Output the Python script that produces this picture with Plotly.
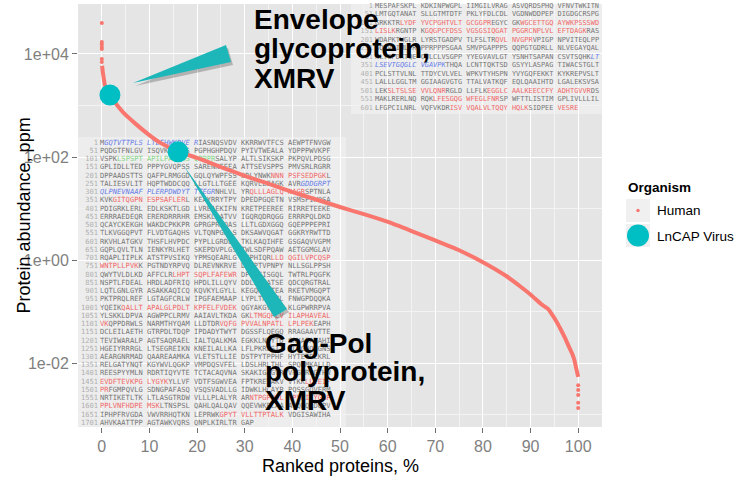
import plotly.graph_objects as go

# ---------------- data ----------------
human_top_rank = [0.0, 0.0, 0.0, 0.0, 0.0, 0.0, 0.0]
human_top_ppm = [39800, 17000, 15500, 13700, 12500, 8000, 6950]

human_curve_rank = [0.06, 0.2, 0.4, 0.6, 1.0, 1.7, 2.9, 5.0, 7.1, 9.9, 12.4, 16.2, 20.0,
                    25.0, 30.0, 35.1, 39.9, 45.0, 50.0, 55.0, 60.1, 64.9, 70.0, 75.0,
                    80.0, 84.9, 88.0, 90.1, 92.2, 93.7, 95.0, 96.4, 97.3, 98.1, 98.7,
                    99.2, 99.6, 100.0]
human_curve_ppm = [5900, 4500, 3400, 2600, 2000, 1600, 1110, 655, 440, 270, 186, 126, 96,
                   64, 43, 30, 21, 15, 10.7, 7.8, 5.5, 3.7, 2.4, 1.55,
                   0.91, 0.49, 0.30, 0.21, 0.14, 0.112, 0.075, 0.044, 0.030, 0.0204, 0.0155,
                   0.0115, 0.0078, 0.0054]

human_tail_rank = [100.0, 100.0, 100.0, 100.0, 100.0]
human_tail_ppm = [0.0037, 0.0030, 0.0024, 0.0017, 0.00135]

virus_rank = [1.7, 16.0]
virus_ppm = [1600, 126]
virus_names = ["Envelope glycoprotein, XMRV", "Gag-Pol polyprotein, XMRV"]

x_tickvals = [0, 10, 20, 30, 40, 50, 60, 70, 80, 90, 100]
y_tickvals = [1e-2, 1, 1e2, 1e4]
y_ticktext = ["1e-02", "1e+00", "1e+02", "1e+04"]
y_minorvals = [1e-3, 1e-1, 1e1, 1e3]

gagpol_lines = [
    "MGQTVTTPLS LTLEHWKDVE RIASNQSVDV KKRRWVTFCS AEWPTFNVGW",
    "PQDGTFNLGV ISQVKSKVFS PGPHGHPDQV PYIVTWEALA YDPPPWVKPF",
    "VSPKLSPSPT APILPARPSS QPPPRSALYP ALTLSIKSKP PKPQVLPDSG",
    "GPLIDLLTED PPPYGVQPSS SARENNEEEA ATTSEVSPPS PMVSRLRGRR",
    "DPPAADSTTS QAFPLRMGGD GQLQYWPFSS SDLYNWKNNN PSFSEDPGKL",
    "TALIESVLIT HQPTWDDCQQ LLGTLLTGEE KQRVLLEAGK AVRGDDGRPT",
    "QLPNEVNAAF PLERPDWDYT TTEGRNHLVL YRQLLLAGLQ NAGRSPTNLA",
    "KVKGITQGPN ESPSAFLERL KEAYRRYTPY DPEDPGQETN VSMSFIWQSA",
    "PDIGRKLERL EDLKSKTLGD LVREAEKIFN KRETPEEREE RIRRETEEKE",
    "ERRRAEDEQR ERERDRRRHR EMSKLLATVV IGQRQDRQGG ERRRPQLDKD",
    "QCAYCKEKGH WAKDCPKKPR GPRGPRPQAS LLTLGDXGGQ GQEPPPEPRI",
    "TLKVGGQPVT FLVDTGAQHS VLTQNPGPLS DKSAWVQGAT GGKRYRWTTD",
    "RKVHLATGKV THSFLHVPDC PYPLLGRDLL TKLKAQIHFE GSGAQVVGPM",
    "GQPLQVLTLN IENKYRLHET SKEPDVPLGS TWLSDFPQAW AETGGMGLAV",
    "RQAPLIIPLK ATSTPVSIKQ YPMSQEARLG IKPHIQRLLD QGILVPCQSP",
    "WNTPLLPVKK PGTNDYRPVQ DLREVNKRVE DIHPTVPNPY NLLSGLPPSH",
    "QWYTVLDLKD AFFCLRLHPT SQPLFAFEWR DPEMGISGQL TWTRLPQGFK",
    "NSPTLFDEAL HRDLADFRIQ HPDLILLQYV DDLLLAATSE QDCQRGTRAL",
    "LQTLGNLGYR ASAKKAQICQ KQVKYLGYLL KEGQRWLTEA RKETVMGQPT",
    "PKTPRQLREF LGTAGFCRLW IPGFAEMAAP LYPLTKTGTL FNWGPDQQKA",
    "YQEIKQALLT APALGLPDLT KPFELFVDEK QGYAKGVLTQ KLGPWRRPVA",
    "YLSKKLDPVA AGWPPCLRMV AAIAVLTKDA GKLTMGQPLV ILAPHAVEAL",
    "VKQPPDRWLS NARMTHYQAM LLDTDRVQFG PVVALNPATL LPLPEKEAPH",
    "DCLEILAETH GTRPDLTDQP IPDADYTWYT DGSSFLQEGQ RRAGAAVTTE",
    "TEVIWARALP AGTSAQRAEL IALTQALKMA EGKKLNVYTD SRYAFATAHI",
    "HGEIYRRRGL LTSEGREIKN KNEILALLKA LFLPKRLSII HCPGHQKGNS",
    "AEARGNRMAD QAAREAAMKA VLETSTLLIE DSTPYTPPHF HYTETDLKRL",
    "RELGATYNQT KGYWVLQGKP VMPDQSVFEL LDSLHRLTHL SPQKMKALLD",
    "REESPYYMLN RDRTIQYVTE TCTACAQVNA SKAKIGAGVR VRGHRPGTHW",
    "EVDFTEVKPG LYGYKYLLVF VDTFSGWVEA FPTKRETAKV VTKKLLEEIF",
    "PRFGMPQVLG SDNGPAFASQ VSQSVADLLG IDWKLHCAYR PQSSGQVERM",
    "NRTIKETLTK LTLASGTRDW VLLLPLALYR ARNTPGPHGL TPYEILYGAP",
    "PPLVNFHDPE MSKLTNSPSL QAHLQALQAV QQEVWKPLAA AYQDQLDQPV",
    "IPHPFRVGDA VWVRRHQTKN LEPRWKGPYT VLLTTPTALK VDGISAWIHA",
    "AHVKAATTPP AGTAWKVQRS QNPLKIRLTR GAP",
]
gagpol_peptides = [
    ("GQTVTTPLSLTLEHWKDVER", "blue"),
    ("LSPSPTAPILPARPSSQPPPR", "green"),
    ("NNNPSFSEDPGK", "red"),
    ("GDDGRPTQLPNEVNAAFPLERPDWDYTTTEGR", "blue"),
    ("QLLLAGLQNAGR", "red"),
    ("GITQGPNESPSAFLER", "red"),
    ("LLDQGILVPCQSPWNTPLLPVK", "red"),
    ("LHPTSQPLFAFEWR", "red"),
    ("QALLTAPALGLPDLTKPFELFVDEK", "red"),
    ("LTMGQPLVILAPHAVEALVK", "red"),
    ("VQFGPVVALNPATLLPLPEK", "red"),
    ("EVDFTEVKPGLYGYK", "red"),
    ("LLEEIFPR", "red"),
    ("NTPGPHGLTPYEILYGAPPPLVNFHDPEMSK", "red"),
    ("GPYTVLLTTPTALK", "red"),
]

env_lines = [
    "MESPAFSKPL KDKINPWGPL IIMGILVRAG ASVQRDSPHQ VFNVTWKITN",
    "LMTGQTANAT SLLGTMTDTF PKLYFDLCDL VGDNWDDPEP DIGDGCRSPG",
    "GRKKTRLYDF YVCPGHTVLT GCGGPREGYC GKWGCETTGQ AYWKPSSSWD",
    "LISLKRGNTP KGQGPCFDSS VGSGSIQGAT PGGRCNPLVL EFTDAGKRAS",
    "WDAPKTWGLR LYRSTGADPV TLFSLTRQVL NVGPRVPIGP NPVITEQLPP",
    "SQPVQIMLPR PPRPPPSGAA SMVPGAPPPS QQPGTGDRLL NLVEGAYQAL",
    "NLTSPDKTQE CWLCLVSGPP YYEGVAVLGT YSNHTSAPAN CSVTSQHKLT",
    "LSEVTGQGLC VGAVPKTHQA LCNTTQKTSD GSYYLASPAG TIWACSTGLT",
    "PCLSTTVLNL TTDYCVLVEL WPKVTYHSPN YVYGQFEKKT KYKREPVSLT",
    "LALLLGGLTM GGIAAGVGTG TTALVATKQF EQLQAAIHTD LGALEKSVSA",
    "LEKSLTSLSE VVLQNRRGLD LLFLKEGGLC AALKEECCFY ADHTGVVRDS",
    "MAKLRERLNQ RQKLFESGQG WFEGLFNRSP WFTTLISTIM GPLIVLLLIL",
    "LFGPCILNRL VQFVKDRISV VQALVLTQQY HQLKSIDPEE VESRE",
]
env_peptides = [
    ("LYDFYVCPGHTVLTGCGGPR", "red"),
    ("WGCETTGQAYWKPSSSWDLISLK", "red"),
    ("GQGPCFDSSVGSGSIQGATPGGRCNPLVLEFTDAGK", "red"),
    ("QVLNVGPR", "red"),
    ("LTLSEVTGQGLCVGAVPK", "blue"),
    ("SLTSLSEVVLQNR", "red"),
    ("EGGLCAALKEECCFYADHTGVVR", "red"),
    ("LFESGQGWFEGLFNR", "red"),
    ("ISVVQALVLTQQYHQLK", "red"),
    ("VESRE", "red"),
]

# ---------------- styling ----------------
W, H = 747, 477
PL, PR, PT, PB = 78, 602, 4, 427
XR = [-5, 105]
YR = [-3.24, 4.97]
RED = "#F8766D"
TEAL = "#00BFC4"
FONT = "Liberation Sans, Arial, sans-serif"
MONO = "DejaVu Sans Mono, monospace"
PLAIN = "#777777"
NUMC = "#b0b0b0"
HL = {"red": "#F06A6A", "blue": "#6A7EE6", "green": "#86D686"}


def px2x(px):
    return XR[0] + (px - PL) / (PR - PL) * (XR[1] - XR[0])


def py2y(py):
    return 10 ** (YR[1] - (py - PT) / (PB - PT) * (YR[1] - YR[0]))


def xp(px):
    return (px - PL) / (PR - PL)


def yp(py):
    return 1 - (py - PT) / (PB - PT)


def build_html(lines, peptides):
    seq_lines = [l.replace(" ", "") for l in lines]
    full = "".join(seq_lines)
    style = [None] * len(full)
    for pep, key in peptides:
        i = full.find(pep)
        if i >= 0:
            for k in range(i, i + len(pep)):
                style[k] = key
    out = []
    off = 0
    for sl in seq_lines:
        toks = []
        for j, ch in enumerate(sl):
            st = style[off + j]
            if j > 0 and j % 10 == 0:
                toks.append(("\u00a0", toks[-1][1]))
            toks.append((ch, st))
        off += len(sl)
        runs = []
        for ch, st in toks:
            if runs and runs[-1][1] == st:
                runs[-1][0] += ch
            else:
                runs.append([ch, st])
        html = ""
        for txt, st in runs:
            if st is None:
                html += txt
            elif st == "blue":
                html += '<span style="color:%s"><i>%s</i></span>' % (HL[st], txt)
            else:
                html += '<span style="color:%s">%s</span>' % (HL[st], txt)
        out.append(html)
    return out


fig = go.Figure()


def add_block(lines, peptides, x_seq_px, y0_px, dy_px, size):
    html = build_html(lines, peptides)
    ys = [py2y(y0_px + i * dy_px) for i in range(len(lines))]
    nums = [str(1 + 50 * i) for i in range(len(lines))]
    fig.add_trace(go.Scatter(
        x=[px2x(x_seq_px - 2)] * len(lines), y=ys, mode="text", text=nums,
        textposition="middle left", textfont=dict(family=MONO, size=size, color=NUMC),
        marker=dict(size=0), hoverinfo="skip", showlegend=False, cliponaxis=False))
    fig.add_trace(go.Scatter(
        x=[px2x(x_seq_px)] * len(lines), y=ys, mode="text", text=html,
        textposition="middle right", textfont=dict(family=MONO, size=size, color=PLAIN),
        marker=dict(size=0), hoverinfo="skip", showlegend=False, cliponaxis=False))


add_block(gagpol_lines, gagpol_peptides, 100, 143, 8.24, 7.1)
add_block(env_lines, env_peptides, 375, 6, 8.5, 6.9)

# human proteins
fig.add_trace(go.Scatter(x=human_curve_rank, y=human_curve_ppm, mode="lines",
                         line=dict(color=RED, width=4, shape="spline", smoothing=0.4),
                         hoverinfo="skip", showlegend=False))
fig.add_trace(go.Scatter(x=human_top_rank + human_tail_rank, y=human_top_ppm + human_tail_ppm,
                         mode="markers", marker=dict(color=RED, size=4),
                         hoverinfo="skip", showlegend=False))
# virus proteins
fig.add_trace(go.Scatter(x=virus_rank, y=virus_ppm, mode="markers", text=virus_names,
                         marker=dict(color=TEAL, size=21, line=dict(width=0)),
                         showlegend=False))

shapes = []
# light panels behind the sequence texts
shapes.append(dict(type="rect", xref="paper", yref="paper", x0=xp(PL), x1=xp(346),
                   y0=yp(PB), y1=yp(137), fillcolor="rgba(246,246,246,0.45)",
                   line=dict(width=0), layer="between"))
shapes.append(dict(type="rect", xref="paper", yref="paper", x0=xp(351), x1=xp(PR),
                   y0=yp(114), y1=yp(PT), fillcolor="rgba(246,246,246,0.45)",
                   line=dict(width=0), layer="between"))


def wedge(pts, color, dx=0, dy=0):
    d = "M " + " L ".join("%f,%f" % (xp(x + dx), yp(y + dy)) for x, y in pts) + " Z"
    return dict(type="path", xref="paper", yref="paper", path=d, fillcolor=color,
                line=dict(width=0), layer="above")


top_w = [(133, 83), (226, 45), (231, 62)]
bot_w = [(184, 166), (287, 309), (274, 317)]
for w in (top_w, bot_w):
    shapes.append(wedge(w, "rgba(0,0,0,0.22)", 2, 3))
    shapes.append(wedge(w, "#1DB7BA"))

# manual legend keys
shapes.append(dict(type="rect", xref="paper", yref="paper", x0=xp(626), x1=xp(650),
                   y0=yp(222), y1=yp(199), fillcolor="#F0F0F0", line=dict(width=0)))
shapes.append(dict(type="rect", xref="paper", yref="paper", x0=xp(626), x1=xp(650),
                   y0=yp(247), y1=yp(224), fillcolor="#F0F0F0", line=dict(width=0)))
shapes.append(dict(type="circle", xref="paper", yref="paper", x0=xp(636.3), x1=xp(639.7),
                   y0=yp(212.2), y1=yp(208.8), fillcolor=RED, line=dict(width=0)))
shapes.append(dict(type="circle", xref="paper", yref="paper", x0=xp(627), x1=xp(649),
                   y0=yp(246.5), y1=yp(224.5), fillcolor=TEAL, line=dict(width=0)))

ann = []


def label(txt, px, py, size, bold=False, color="black", xanchor="left", angle=0):
    if bold:
        txt = "<b>%s</b>" % txt
    ann.append(dict(text=txt, x=xp(px), y=yp(py), xref="paper", yref="paper",
                    xanchor=xanchor, yanchor="middle", showarrow=False, textangle=angle,
                    font=dict(family=FONT, size=size, color=color)))


for i, t in enumerate(["Envelope", "glycoprotein,", "XMRV"]):
    label(t, 252, 19 + i * 29.5, 28, bold=True)
for i, t in enumerate(["Gag-Pol", "polyprotein,", "XMRV"]):
    label(t, 263, 343 + i * 28.5, 28, bold=True)

label("Organism", 626, 187, 13.5, bold=True)
label("Human", 655, 211, 13.5)
label("LnCAP Virus", 655, 236, 13.5)
label("Ranked proteins, %", (PL + PR) / 2, 466, 18, xanchor="center")
label("Protein abundance, ppm", 23, (PT + PB) / 2, 18, xanchor="center", angle=-90)

fig.update_layout(
    width=W, height=H,
    margin=dict(l=PL, r=W - PR, t=PT, b=H - PB),
    paper_bgcolor="white", plot_bgcolor="#E5E5E5",
    shapes=shapes, annotations=ann, showlegend=False,
    font=dict(family=FONT),
)
fig.update_xaxes(
    range=XR, tickvals=x_tickvals, ticks="outside", ticklen=5, tickwidth=1,
    tickcolor="#6F6F6F", tickfont=dict(family=FONT, size=16, color="#7F7F7F"),
    showgrid=True, gridcolor="white", gridwidth=1.2, zeroline=False, showline=False,
    minor=dict(dtick=5, tick0=0, showgrid=True, gridcolor="#F3F3F3", gridwidth=0.5, ticks=""),
)
fig.update_yaxes(
    type="log", range=YR, tickvals=y_tickvals, ticktext=y_ticktext, ticks="outside",
    ticklen=5, tickwidth=1, tickcolor="#6F6F6F",
    tickfont=dict(family=FONT, size=16, color="#7F7F7F"),
    showgrid=True, gridcolor="white", gridwidth=1.2, zeroline=False, showline=False,
    minor=dict(tickvals=y_minorvals, showgrid=True, gridcolor="#F3F3F3", gridwidth=0.5, ticks=""),
)

fig.write_html("out.html", config={"displayModeBar": False},
               post_script="document.body.style.margin='0';")
